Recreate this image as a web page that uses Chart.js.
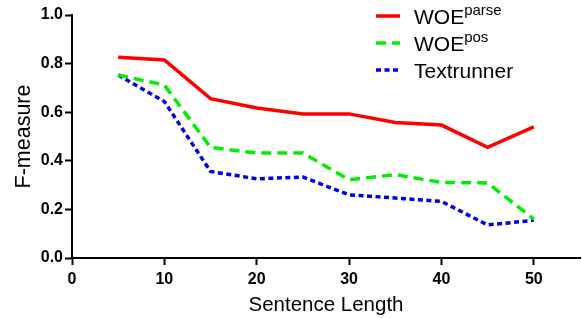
<!DOCTYPE html>
<html><head><meta charset="utf-8">
<script src="https://cdn.jsdelivr.net/npm/chart.js@4"></script>
<style>html,body{margin:0;padding:0;background:#fff}#wrap{width:582px;height:318px}</style>
</head><body><div id="wrap"><canvas id="c"></canvas></div>
<script>
const sentenceLength = [5, 10, 15, 20, 25, 30, 35, 40, 45, 50];
const woeParse = [0.826, 0.815, 0.656, 0.617, 0.593, 0.593, 0.558, 0.547, 0.455, 0.540];
const woePos = [0.753, 0.712, 0.455, 0.432, 0.432, 0.322, 0.343, 0.311, 0.309, 0.160];
const textrunner = [0.753, 0.644, 0.356, 0.326, 0.333, 0.260, 0.247, 0.233, 0.136, 0.155];
const seriesNames = ['WOE', 'WOE', 'Textrunner'];
const seriesSup = ['parse', 'pos', ''];
const yTicks = [0, 0.2, 0.4, 0.6, 0.8, 1.0];
const xTicks = [0, 10, 20, 30, 40, 50];

const toPts = (arr) => arr.map((v, i) => ({x: sentenceLength[i], y: v}));

const legendPlugin = {
  id: 'supLegend',
  afterDraw(chart) {
    const ctx = chart.ctx;
    ctx.save();
    const x0 = 376, x1 = 400, tx = 414, ys = [16, 43, 70];
    chart.data.datasets.forEach((ds, i) => {
      const y = ys[i];
      ctx.beginPath();
      ctx.strokeStyle = ds.borderColor;
      ctx.lineWidth = ds.borderWidth;
      ctx.setLineDash(ds.borderDash || []);
      ctx.moveTo(x0, y); ctx.lineTo(x1, y); ctx.stroke();
      ctx.setLineDash([]);
      ctx.fillStyle = '#000';
      ctx.textBaseline = 'alphabetic';
      ctx.font = '21px Arial, "Liberation Sans", sans-serif';
      ctx.fillText(seriesNames[i], tx, y + 8);
      const w = ctx.measureText(seriesNames[i]).width;
      if (seriesSup[i]) {
        ctx.font = '15px Arial, "Liberation Sans", sans-serif';
        ctx.fillText(seriesSup[i], tx + w, y - 1);
      }
    });
    ctx.restore();
  }
};

new Chart(document.getElementById('c'), {
  type: 'line',
  data: {
    datasets: [
      {label: 'WOE parse', data: toPts(woeParse), borderColor: '#ff0000', borderWidth: 3.5, pointRadius: 0, fill: false, tension: 0},
      {label: 'WOE pos', data: toPts(woePos), borderColor: '#00ee00', borderWidth: 3.5, borderDash: [10, 6], pointRadius: 0, fill: false, tension: 0},
      {label: 'Textrunner', data: toPts(textrunner), borderColor: '#0000e6', borderWidth: 3.5, borderDash: [5, 3.5], pointRadius: 0, fill: false, tension: 0}
    ]
  },
  options: {
    responsive: true, maintainAspectRatio: false, animation: false,
    layout: {padding: {top: 15, right: 2, left: 0, bottom: 0}},
    plugins: {legend: {display: false}, tooltip: {enabled: false}},
    scales: {
      x: {
        type: 'linear', min: 0, max: 55,
        afterBuildTicks: (s) => { s.ticks = xTicks.map(v => ({value: v})); },
        afterFit: (s) => { s.height = 60; },
        border: {display: true, color: '#000', width: 2},
        grid: {display: true, drawOnChartArea: false, tickLength: 7, tickColor: '#000', tickWidth: 2},
        ticks: {color: '#000', padding: 5, font: {family: 'Arial, "Liberation Sans", sans-serif', size: 16, weight: 'bold'}, maxRotation: 0},
        title: {display: true, text: 'Sentence Length', color: '#000', padding: {top: 0, bottom: 0}, font: {family: 'Arial, "Liberation Sans", sans-serif', size: 20.5}}
      },
      y: {
        type: 'linear', min: 0, max: 1,
        afterBuildTicks: (s) => { s.ticks = yTicks.map(v => ({value: v})); },
        afterFit: (s) => { s.width = 72; },
        border: {display: true, color: '#000', width: 2},
        grid: {display: true, drawOnChartArea: false, tickLength: 7, tickColor: '#000', tickWidth: 2},
        ticks: {color: '#000', padding: 2, callback: (v) => Number(v).toFixed(1), font: {family: 'Arial, "Liberation Sans", sans-serif', size: 16, weight: 'bold'}},
        title: {display: true, text: 'F-measure', color: '#000', padding: {top: 11, bottom: 0}, font: {family: 'Arial, "Liberation Sans", sans-serif', size: 21.5}}
      }
    }
  },
  plugins: [legendPlugin]
});
</script></body></html>
